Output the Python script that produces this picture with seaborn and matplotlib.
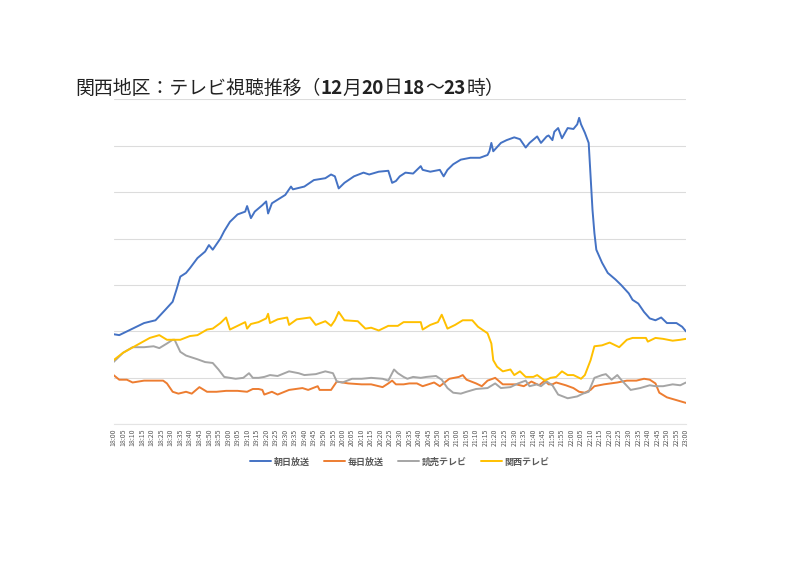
import pandas as pd
import numpy as np
import matplotlib
matplotlib.use('Agg')
import matplotlib.pyplot as plt
import seaborn as sns

# minutes after 18:00 and rating values
asahi_t = [0, 3, 9, 16, 22, 27, 31, 33, 35, 38, 40, 44, 48, 50, 52, 56, 58, 61, 65, 69,
           70, 72, 74, 78, 80, 81, 83, 90, 93, 94, 100, 105, 111, 114, 116, 118, 121, 126, 131, 134,
           139, 144, 146, 148, 150, 153, 157, 161, 162, 166, 171, 173, 175, 178, 182, 187, 192, 196, 197, 198,
           199, 203, 206, 210, 213, 216, 218, 222, 224, 227, 228, 230, 231, 233, 235, 238, 241, 243, 244, 245,
           247, 249, 250, 251, 252, 253, 256, 259, 263, 266, 270, 272, 275, 278, 281, 284, 287, 290, 295, 298, 300]
asahi_v = [9.7, 9.6, 10.2, 10.9, 11.2, 12.3, 13.2, 14.5, 15.9, 16.3, 16.8, 17.9, 18.6, 19.3, 18.8, 20.0, 20.8, 21.8, 22.6, 22.9,
           23.5, 22.2, 22.9, 23.6, 24.0, 22.7, 23.8, 24.7, 25.6, 25.3, 25.6, 26.3, 26.5, 26.9, 26.7, 25.4, 26.0, 26.7, 27.1, 26.9,
           27.2, 27.3, 26.0, 26.2, 26.7, 27.1, 27.0, 27.8, 27.4, 27.2, 27.4, 26.7, 27.4, 28.0, 28.5, 28.7, 28.7, 29.0, 29.4, 30.3,
           29.4, 30.3, 30.6, 30.9, 30.7, 29.8, 30.3, 31.0, 30.3, 31.0, 31.1, 30.6, 31.5, 31.9, 30.8, 31.9, 31.8, 32.3, 33.0, 32.3,
           31.4, 30.3, 26.7, 23.1, 20.6, 18.8, 17.4, 16.3, 15.6, 15.0, 14.1, 13.4, 13.0, 12.1, 11.4, 11.2, 11.5, 10.9, 10.9, 10.5, 10.0]

mainichi_t = [0, 3, 7, 10, 16, 21, 26, 28, 31, 34, 38, 41, 45, 49, 54, 59, 65, 70, 73, 76,
              78, 79, 83, 86, 92, 99, 102, 107, 108, 114, 117, 123, 130, 135, 141, 144, 146, 148, 152, 155,
              159, 162, 168, 171, 176, 181, 183, 185, 190, 193, 196, 200, 204, 208, 211, 215, 219, 223, 226, 228,
              230, 232, 237, 241, 244, 247, 250, 252, 257, 264, 269, 274, 278, 281, 284, 286, 290, 295, 300]
mainichi_v = [5.3, 4.8, 4.8, 4.5, 4.7, 4.7, 4.7, 4.4, 3.5, 3.3, 3.5, 3.3, 4.0, 3.5, 3.5, 3.6, 3.6, 3.5, 3.8, 3.8,
              3.7, 3.2, 3.5, 3.2, 3.7, 3.9, 3.7, 4.1, 3.7, 3.7, 4.6, 4.4, 4.3, 4.3, 4.0, 4.4, 4.7, 4.3, 4.3, 4.4,
              4.4, 4.1, 4.5, 4.1, 4.9, 5.1, 5.3, 4.8, 4.4, 4.1, 4.7, 5.0, 4.3, 4.3, 4.3, 4.1, 4.6, 4.2, 4.7, 4.3,
              4.3, 4.5, 4.2, 3.9, 3.5, 3.4, 3.7, 4.1, 4.3, 4.5, 4.7, 4.7, 4.9, 4.8, 4.4, 3.4, 2.9, 2.6, 2.3]

yomiuri_t = [0, 5, 10, 16, 21, 24, 28, 31, 32, 35, 38, 44, 48, 52, 55, 58, 64, 68, 71, 73,
             76, 79, 82, 86, 92, 97, 100, 106, 111, 115, 117, 120, 125, 130, 135, 141, 144, 147, 149, 152,
             154, 157, 161, 164, 169, 172, 175, 178, 182, 185, 190, 196, 200, 203, 208, 212, 216, 218, 222, 224,
             227, 230, 233, 238, 243, 246, 249, 252, 256, 258, 261, 264, 266, 271, 276, 281, 284, 288, 293, 297, 300]
yomiuri_v = [6.7, 7.7, 8.3, 8.3, 8.4, 8.2, 8.7, 9.1, 9.1, 7.8, 7.4, 7.0, 6.7, 6.6, 5.9, 5.1, 4.9, 5.0, 5.5, 5.0,
             5.0, 5.1, 5.3, 5.2, 5.7, 5.5, 5.3, 5.4, 5.7, 5.5, 4.6, 4.5, 4.9, 4.9, 5.0, 4.9, 4.7, 5.9, 5.5, 5.1,
             4.9, 5.1, 5.0, 5.1, 5.2, 4.8, 3.9, 3.4, 3.3, 3.5, 3.8, 3.9, 4.4, 3.9, 4.0, 4.4, 4.7, 4.1, 4.3, 4.1,
             4.6, 4.2, 3.2, 2.8, 3.0, 3.3, 3.5, 5.0, 5.3, 5.4, 4.8, 5.3, 4.8, 3.7, 3.9, 4.2, 4.1, 4.1, 4.3, 4.2, 4.5]

kantele_t = [0, 5, 12, 19, 24, 28, 35, 40, 44, 49, 52, 56, 59, 61, 65, 69, 70, 72, 76, 80,
             81, 82, 86, 91, 92, 96, 103, 106, 111, 114, 116, 118, 121, 128, 132, 135, 139, 144, 149, 152,
             154, 161, 162, 166, 170, 172, 175, 179, 183, 188, 191, 196, 198, 199, 201, 204, 208, 210, 213, 216,
             220, 222, 224, 226, 229, 232, 235, 238, 241, 245, 247, 250, 252, 256, 260, 265, 269, 272, 276, 279,
             280, 284, 288, 293, 297, 300]
kantele_v = [6.9, 7.7, 8.5, 9.3, 9.6, 9.1, 9.1, 9.5, 9.6, 10.2, 10.3, 10.9, 11.5, 10.2, 10.6, 11.0, 10.3, 10.8, 11.0, 11.4,
             11.9, 10.9, 11.3, 11.5, 10.7, 11.3, 11.5, 10.7, 11.1, 10.6, 11.2, 12.1, 11.2, 11.1, 10.3, 10.4, 10.1, 10.6, 10.6, 11.0,
             11.0, 11.0, 10.2, 10.7, 11.0, 11.8, 10.3, 10.7, 11.2, 11.2, 10.5, 9.8, 8.7, 6.9, 6.2, 5.7, 5.9, 5.3, 5.7, 5.1,
             5.1, 5.3, 5.0, 4.7, 5.0, 5.1, 5.7, 5.3, 5.3, 4.9, 5.3, 6.9, 8.4, 8.5, 8.8, 8.3, 9.1, 9.3, 9.3, 9.3,
             8.9, 9.3, 9.2, 9.0, 9.1, 9.2]

stations = ['朝日放送', '毎日放送', '読売テレビ', '関西テレビ']
colors = ['#4472C4', '#ED7D31', '#A5A5A5', '#FFC000']
tick_minutes = list(range(0, 301, 5))
tick_labels = [f'{18 + m // 60}:{m % 60:02d}' for m in tick_minutes]

# title pieces: digits are bold in the original
title_parts = [('関西地区：テレビ視聴推移（', 'normal'), ('12', 'bold'), ('月', 'normal'),
               ('20', 'bold'), ('日', 'normal'), ('18', 'bold'), ('～', 'normal'),
               ('23', 'bold'), ('時）', 'normal')]

frames = []
for name, t, v in zip(stations,
                      [asahi_t, mainichi_t, yomiuri_t, kantele_t],
                      [asahi_v, mainichi_v, yomiuri_v, kantele_v]):
    frames.append(pd.DataFrame({'minute': t, 'rating': v, 'station': name}))
df = pd.concat(frames, ignore_index=True)

sns.set_style('white')
plt.rcParams['font.family'] = ['Noto Sans CJK JP', 'DejaVu Sans']

fig = plt.figure(figsize=(8, 5.66), dpi=100)
ax = fig.add_axes([0.1419, 0.2504, 0.7156, 0.5742])

sns.lineplot(data=df, x='minute', y='rating', hue='station', hue_order=stations,
             palette=colors, estimator=None, linewidth=1.4, ax=ax)

ax.set_xlim(0, 300)
ax.set_ylim(0, 35)
ax.set_yticks(range(0, 36, 5))
ax.set_yticklabels([])
ax.yaxis.grid(True, color='#dcdcdc', linewidth=0.8)
ax.set_axisbelow(True)
ax.set_xticks(tick_minutes)
ax.set_xticklabels(tick_labels, rotation=90, fontsize=5, color='#595959')
ax.tick_params(axis='both', length=0, pad=3)
for s in ['top', 'right', 'left']:
    ax.spines[s].set_visible(False)
ax.spines['bottom'].set_color('#e4e4e4')
ax.spines['bottom'].set_linewidth(0.8)
ax.set_xlabel('')
ax.set_ylabel('')

ax.legend(loc='center', bbox_to_anchor=(0.5, -0.116), ncol=4, frameon=False,
          handlelength=2.3, columnspacing=1.6, handletextpad=0.3,
          labelcolor='#595959', prop={'weight': 'bold', 'size': 6.5})

# title drawn piece by piece
fig.canvas.draw()
r = fig.canvas.get_renderer()
xpos = 75 / 800
for txt, w in title_parts:
    t = fig.text(xpos, 1 - 88 / 566, txt, fontsize=13.6, fontweight=w,
                 va='center', ha='left', color='#222222')
    xpos = t.get_window_extent(r).x1 / fig.bbox.width

fig.savefig('out.png', dpi=100, facecolor='white')
